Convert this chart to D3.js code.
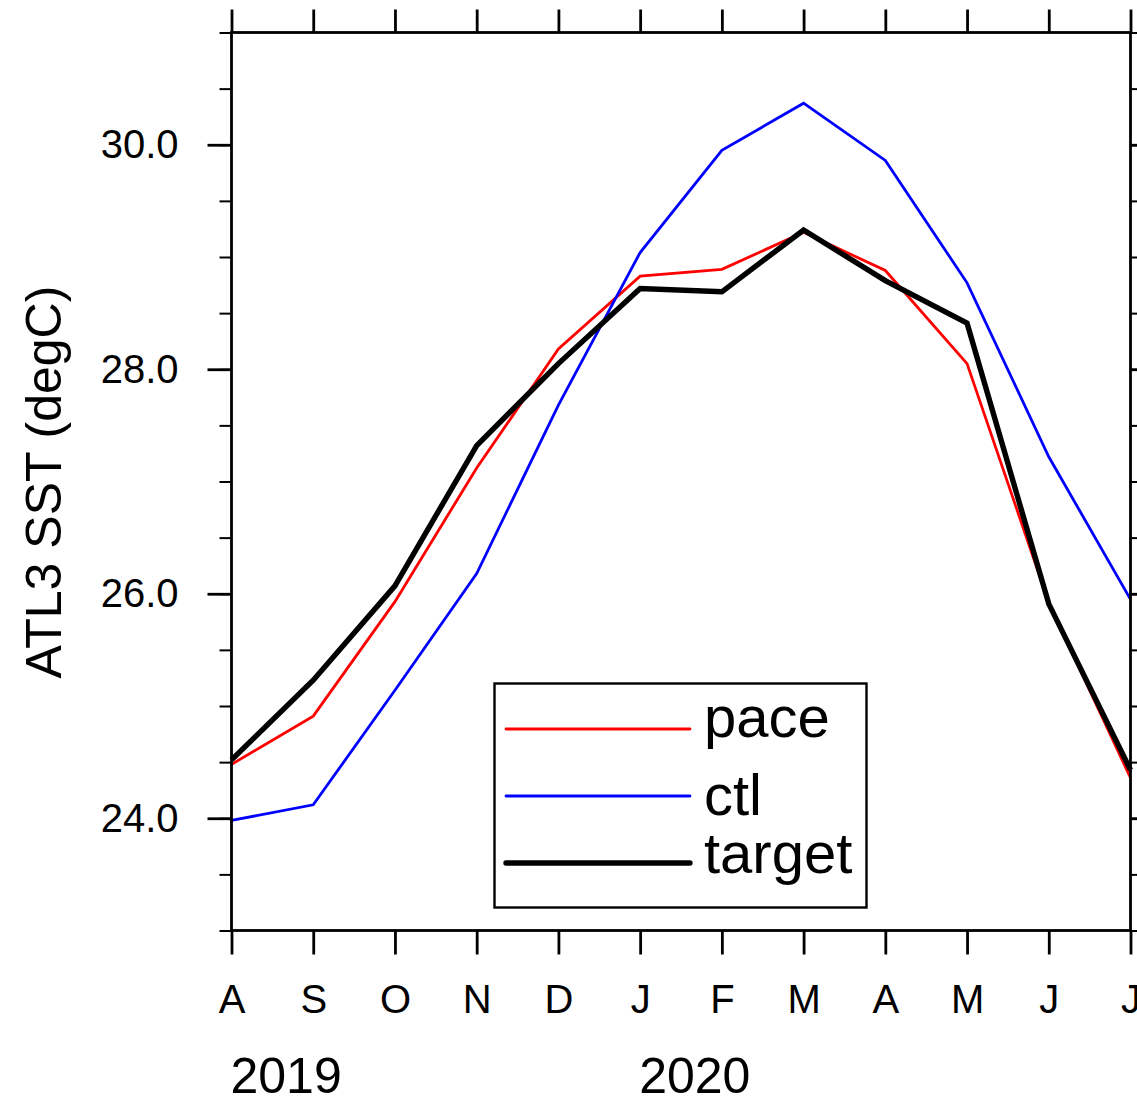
<!DOCTYPE html>
<html>
<head>
<meta charset="utf-8">
<script src="https://cdn.jsdelivr.net/npm/d3@7"></script>
<style>
  body { margin: 0; background: #fff; }
  svg { display: block; font-family: "Liberation Sans", Arial, Helvetica, sans-serif; }
</style>
</head>
<body>
<svg id="chart" width="1137" height="1098"></svg>
<script>
// months Aug 2019 .. Jul 2020
const months = ["A", "S", "O", "N", "D", "J", "F", "M", "A", "M", "J", "J"];
const years = [{label: "2019", idx: 0}, {label: "2020", idx: 5}];

// ATL3 SST (degC)
const pace   = [24.48, 24.91, 25.93, 27.12, 28.18, 28.83, 28.89, 29.22, 28.88, 28.05, 25.92, 24.36];
const ctl    = [23.98, 24.12, 25.14, 26.18, 27.68, 29.04, 29.95, 30.37, 29.86, 28.77, 27.22, 25.95];
const target = [24.52, 25.23, 26.07, 27.32, 28.05, 28.72, 28.69, 29.24, 28.79, 28.41, 25.91, 24.43];

const yMajor = [24, 26, 28, 30];
const yMinor = d3.range(23, 31.01, 0.5);

const series = [
  {name: "pace",   values: pace,   color: "#ff0000", width: 2.8},
  {name: "ctl",    values: ctl,    color: "#0000ff", width: 2.8},
  {name: "target", values: target, color: "#000000", width: 5.4}
];

var svg = d3.select("#chart");
// plot box (don't use "top" as a name, it clashes with window.top)
var pLeft = 231.5, pRight = 1130.5, pTop = 32.5, pBottom = 930.5;

var x = d3.scaleLinear().domain([0, months.length - 1]).range([pLeft, pRight]);
var y = d3.scaleLinear().domain([23, 31]).range([pBottom, pTop]);

// minor ticks
svg.append("g")
    .attr("transform", "translate(" + pLeft + ",0)")
    .call(d3.axisLeft(y).tickValues(yMinor).tickSize(12).tickSizeOuter(0).tickFormat(""))
    .call(g => g.select(".domain").remove())
    .call(g => g.selectAll("line").attr("stroke-width", 2));
svg.append("g")
    .attr("transform", "translate(" + pRight + ",0)")
    .call(d3.axisRight(y).tickValues(yMinor).tickSize(12).tickSizeOuter(0).tickFormat(""))
    .call(g => g.select(".domain").remove())
    .call(g => g.selectAll("line").attr("stroke-width", 2));

// major ticks + labels
svg.append("g")
    .attr("transform", "translate(" + pLeft + ",0)")
    .call(d3.axisLeft(y).tickValues(yMajor).tickSize(24).tickPadding(29).tickFormat(d3.format(".1f")))
    .call(g => g.select(".domain").remove())
    .call(g => g.selectAll("line").attr("stroke-width", 2.8))
    .call(g => g.selectAll("text").attr("font-size", 40).attr("font-family", null).attr("fill", "#000"));
svg.append("g")
    .attr("transform", "translate(" + pRight + ",0)")
    .call(d3.axisRight(y).tickValues(yMajor).tickSize(24).tickFormat(""))
    .call(g => g.select(".domain").remove())
    .call(g => g.selectAll("line").attr("stroke-width", 2.8));

var xTicks = d3.range(months.length);
svg.append("g")
    .attr("transform", "translate(0," + pBottom + ")")
    .call(d3.axisBottom(x).tickValues(xTicks).tickSize(24).tickPadding(30).tickFormat(i => months[i]))
    .call(g => g.select(".domain").remove())
    .call(g => g.selectAll("line").attr("stroke-width", 2.8))
    .call(g => g.selectAll("text").attr("font-size", 40).attr("font-family", null).attr("fill", "#000"));
svg.append("g")
    .attr("transform", "translate(0," + pTop + ")")
    .call(d3.axisTop(x).tickValues(xTicks).tickSize(23).tickFormat(""))
    .call(g => g.select(".domain").remove())
    .call(g => g.selectAll("line").attr("stroke-width", 2.8));

// year labels
svg.selectAll(".year")
    .data(years)
    .enter().append("text")
    .attr("class", "year")
    .attr("x", d => x(d.idx) - 1)
    .attr("y", 1093)
    .attr("font-size", 50)
    .text(d => d.label);

// y title
svg.append("text")
    .attr("transform", "translate(61,482) rotate(-90)")
    .attr("text-anchor", "middle")
    .attr("font-size", 50)
    .text("ATL3 SST (degC)");

// lines
var line = d3.line()
    .x((d, i) => x(i))
    .y(d => y(d));

svg.append("g")
    .selectAll("path")
    .data(series)
    .enter().append("path")
    .attr("d", d => line(d.values))
    .attr("fill", "none")
    .attr("stroke", d => d.color)
    .attr("stroke-width", d => d.width)
    .attr("stroke-linejoin", "miter");

// frame
svg.append("rect")
    .attr("x", pLeft).attr("y", pTop)
    .attr("width", pRight - pLeft).attr("height", pBottom - pTop)
    .attr("fill", "none")
    .attr("stroke", "#000")
    .attr("stroke-width", 2.8);

// legend
var legendY = [729, 796, 863];
var textY = [737, 815, 873];
var legend = svg.append("g");
legend.append("rect")
    .attr("x", 494.5).attr("y", 683.5)
    .attr("width", 372).attr("height", 224)
    .attr("fill", "#fff")
    .attr("stroke", "#000")
    .attr("stroke-width", 2.4);
var item = legend.selectAll(".item")
    .data(series)
    .enter().append("g")
    .attr("class", "item");
item.append("line")
    .attr("x1", 506).attr("x2", 690)
    .attr("y1", (d, i) => legendY[i]).attr("y2", (d, i) => legendY[i])
    .attr("stroke", d => d.color)
    .attr("stroke-width", d => d.width)
    .attr("stroke-linecap", "round");
item.append("text")
    .attr("x", 704)
    .attr("y", (d, i) => textY[i])
    .attr("font-size", 58)
    .text(d => d.name);
</script>
</body>
</html>
